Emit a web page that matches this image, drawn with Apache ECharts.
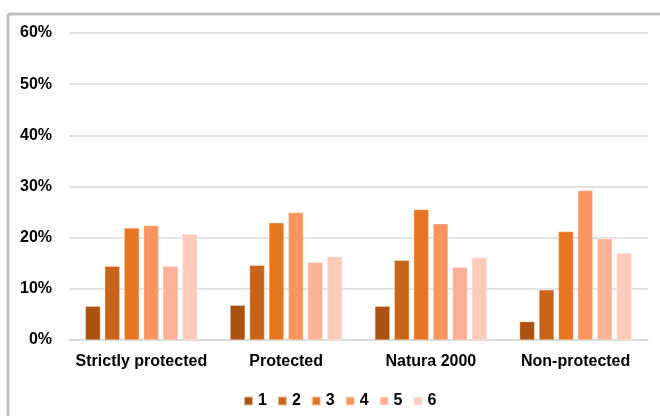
<!DOCTYPE html>
<html>
<head>
<meta charset="utf-8">
<script src="https://cdn.jsdelivr.net/npm/echarts@6/dist/echarts.min.js"></script>
<style>
html,body{margin:0;padding:0;background:#fff;}
#c{width:660px;height:416px;}
</style>
</head>
<body>
<div id="c"></div>
<script>
var categories = ['Strictly protected', 'Protected', 'Natura 2000', 'Non-protected'];
var seriesNames = ['1', '2', '3', '4', '5', '6'];
var s1 = [6.6, 6.8, 6.6, 3.6];
var s2 = [14.4, 14.6, 15.6, 9.8];
var s3 = [21.9, 22.9, 25.5, 21.2];
var s4 = [22.4, 24.9, 22.7, 29.2];
var s5 = [14.4, 15.2, 14.2, 19.8];
var s6 = [20.7, 16.3, 16.1, 17.0];
var yTicks = [0, 10, 20, 30, 40, 50, 60];
var colors = ['#AC5210', '#C9651B', '#E77623', '#FB955F', '#FDB196', '#FECBBA'];
var seriesData = [s1, s2, s3, s4, s5, s6];

var font = '"Liberation Sans", Arial, sans-serif';
var chart = echarts.init(document.getElementById('c'));
chart.setOption({
  animation: false,
  backgroundColor: '#fff',
  textStyle: { fontFamily: font },
  graphic: [
    { type: 'line', shape: { x1: 8, y1: 14, x2: 660, y2: 14 }, style: { stroke: '#C0C0C0', lineWidth: 3 } },
    { type: 'line', shape: { x1: 8, y1: 14, x2: 8, y2: 416 }, style: { stroke: '#C0C0C0', lineWidth: 3 } }
  ],
  grid: { left: 69, right: 12, top: 33, bottom: 76 },
  legend: {
    data: seriesNames,
    left: 238,
    top: 388,
    itemWidth: 9,
    itemHeight: 9,
    itemGap: 10,
    icon: 'rect',
    textStyle: { fontFamily: font, fontSize: 16, fontWeight: 'bold', color: '#000' }
  },
  xAxis: {
    type: 'category',
    data: categories,
    axisTick: { show: false },
    axisLine: { lineStyle: { color: '#D9D9D9', width: 1.5 } },
    axisLabel: { interval: 0, fontFamily: font, fontSize: 16, fontWeight: 'bold', color: '#000', margin: 14 }
  },
  yAxis: {
    type: 'value',
    min: yTicks[0],
    max: yTicks[yTicks.length - 1],
    interval: yTicks[1] - yTicks[0],
    axisLine: { show: false },
    axisTick: { show: false },
    splitLine: { lineStyle: { color: '#D9D9D9', width: 1.5 } },
    axisLabel: { formatter: '{value}%', fontFamily: font, fontSize: 16, fontWeight: 'bold', color: '#000', margin: 17 }
  },
  series: seriesNames.map(function (n, i) {
    return {
      name: n,
      type: 'bar',
      data: seriesData[i],
      barGap: '29%',
      barCategoryGap: '22.6%',
      itemStyle: { color: colors[i], borderColor: 'rgba(255,255,255,0.6)', borderWidth: 0.5 }
    };
  })
});
</script>
</body>
</html>
